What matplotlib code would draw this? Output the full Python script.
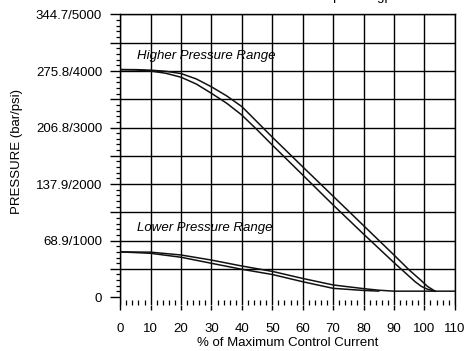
import numpy as np
import matplotlib
matplotlib.use("Agg")
import matplotlib.pyplot as plt
from matplotlib.ticker import FixedLocator

plt.rcParams['font.family'] = ['Liberation Sans', 'DejaVu Sans']

#%%# data (x = % of max control current, y = psi)

hi_outer_x = [0, 5, 10, 15, 20, 25, 30, 35, 40, 45, 50, 60, 70, 80, 90, 95, 99, 101, 103.5]
hi_outer_p = [4025, 4025, 4015, 3995, 3955, 3860, 3720, 3560, 3370, 3100, 2830, 2305, 1785, 1265, 745, 480, 290, 190, 105]

hi_inner_x = [0, 5, 10, 15, 20, 25, 30, 35, 40, 45, 50, 60, 70, 80, 90, 97, 99, 101, 103.5]
hi_inner_p = [4025, 4020, 4000, 3960, 3890, 3770, 3605, 3430, 3220, 2960, 2690, 2160, 1630, 1115, 610, 270, 190, 140, 105]

lo_outer_x = [0, 10, 20, 30, 40, 50, 60, 70, 80, 85, 90, 110]
lo_outer_p = [800, 795, 745, 655, 550, 455, 330, 215, 150, 122, 105, 105]

lo_inner_x = [0, 10, 20, 30, 40, 50, 60, 70, 80, 85]
lo_inner_p = [800, 775, 705, 598, 492, 400, 272, 155, 118, 106]

y_ticks = [0, 1000, 2000, 3000, 4000, 5000]
y_labels = ["0", "68.9/1000", "137.9/2000", "206.8/3000", "275.8/4000", "344.7/5000"]
x_ticks = list(range(0, 111, 10))

#%%# figure

fig = plt.figure(figsize=(4.66, 3.51), dpi=100)
ax = fig.add_axes([0.258, 0.131, 0.718, 0.8277])
ax.set_xlim(0, 110)
ax.set_ylim(-140, 5000)

ink = '#111111'
for x, p in [(hi_outer_x, hi_outer_p), (hi_inner_x, hi_inner_p),
             (lo_outer_x, lo_outer_p), (lo_inner_x, lo_inner_p)]:
    ax.plot(x, p, color=ink, lw=1.1, zorder=3, solid_joinstyle='round')

# y axis: ticks every 500, labels every 1000, minor every 100
major_y = list(range(0, 5001, 500))
ax.yaxis.set_major_locator(FixedLocator(major_y))
ax.set_yticklabels([y_labels[y_ticks.index(v)] if v in y_ticks else "" for v in major_y])
ax.yaxis.set_minor_locator(FixedLocator([v for v in range(100, 5000, 100) if v % 500]))
ax.tick_params(axis='y', which='major', direction='out', length=7, width=1, pad=6,
               labelsize=9.5, color='black')
ax.tick_params(axis='y', which='minor', direction='out', length=3, width=0.9)

# x axis
ax.set_xticks(x_ticks)
ax.xaxis.set_minor_locator(FixedLocator(list(range(0, 111, 2))))
ax.tick_params(axis='x', which='major', direction='out', length=3.6, width=1, pad=9,
               labelsize=9.5)
ax.tick_params(axis='x', which='minor', direction='in', length=3.6, width=0.9)

ax.grid(True, which='major', color='black', lw=1, zorder=1)
ax.get_ygridlines()[0].set_visible(False)

ax.spines['bottom'].set_visible(False)
for s in ['left', 'top', 'right']:
    ax.spines[s].set_linewidth(1)

ax.set_xlabel("% of Maximum Control Current", fontsize=9.5, labelpad=2)
ax.set_ylabel("PRESSURE (bar/psi)", fontsize=9.5)
ax.yaxis.set_label_coords(-0.292, 0.527)

ax.text(5.6, 4212, "Higher Pressure Range", fontsize=9.5, style='italic', va='baseline')
ax.text(5.6, 1168, "Lower Pressure Range", fontsize=9.5, style='italic', va='baseline')

# clipped caption at the very top of the page
fig.text(0.668, 1.0, "temp at 12 gpm", fontsize=9.5, va='baseline', ha='left')

fig.savefig("out.png", dpi=100)
